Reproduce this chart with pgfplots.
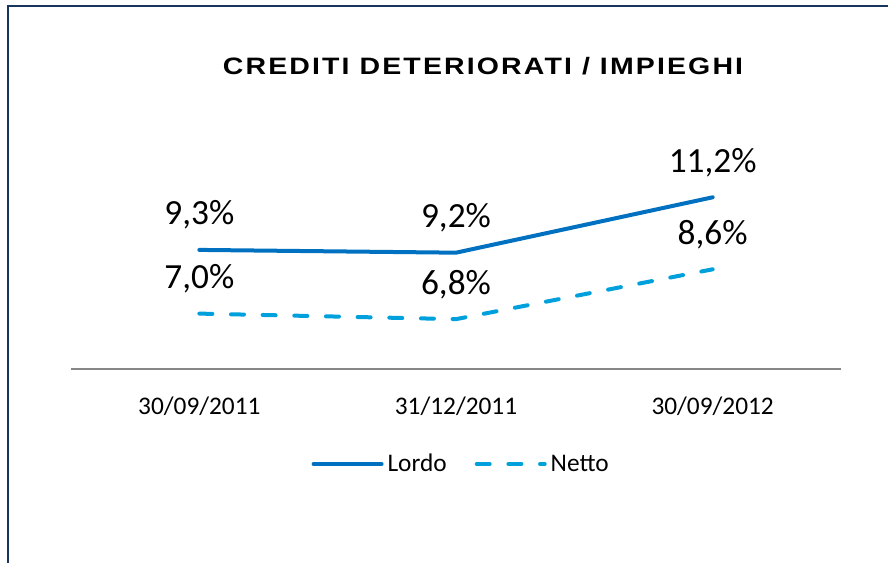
\documentclass[border=0pt]{standalone}
\usepackage{pgfplots}
\pgfplotsset{compat=1.18}
\usepackage{fontspec}
\setmainfont{Carlito}
\newfontfamily\titlefont[FakeStretch=1.2,LetterSpace=9]{Liberation Sans}
\definecolor{lordo}{RGB}{0,112,192}
\definecolor{netto}{RGB}{0,160,220}
\definecolor{frame}{RGB}{23,54,93}
\definecolor{axisgray}{RGB}{134,134,134}
\begin{document}
\begin{tikzpicture}
\useasboundingbox (0,0) rectangle (666pt,422.25pt);
\draw[frame, line width=1.5pt] (6pt,-2pt) -- (6pt,417.75pt) -- (668pt,417.75pt);
\node[anchor=base, inner sep=0pt, font=\titlefont\bfseries\fontsize{17.8}{21}\selectfont] at (362.25pt,366pt) {CREDITI DETERIORATI / IMPIEGHI};
\begin{axis}[
  at={(53.25pt,145.5pt)}, anchor=south west,
  scale only axis, width=577.5pt, height=145.4pt,
  xmin=-0.5, xmax=2.5, ymin=5, ymax=12,
  axis x line*=bottom, axis y line=none,
  x axis line style={draw=axisgray, line width=1.3pt},
  xtick={0,1,2}, xticklabels={30/09/2011,31/12/2011,30/09/2012},
  major tick length=0pt,
  xticklabel style={font=\fontsize{19}{22}\selectfont, anchor=base, yshift=-34.5pt},
  clip=false,
  point meta=y,
  nodes near coords={\pgfmathprintnumber[fixed,fixed zerofill,precision=1,use comma,assume math mode=true]{\pgfplotspointmeta}\%},
  every node near coord/.append style={anchor=base, yshift=18.75pt, font=\fontsize{26.5}{30}\selectfont, text=black},
  legend style={at={(0.508,-0.49)}, anchor=center, draw=none, fill=none, legend columns=2,
    font=\fontsize{19}{22}\selectfont, inner sep=0pt, nodes={inner sep=3pt},
    /tikz/every even column/.append style={column sep=18pt}},
  legend image code/.code={\draw[#1] (0pt,0pt) -- (51pt,0pt);},
]
\addplot[lordo, line width=3pt, line join=round, line cap=round, no marks] coordinates {(0,9.3) (1,9.2) (2,11.2)};
\addlegendentry{Lordo}
\addplot[netto, line width=3pt, line cap=round, dash pattern=on 9.75pt off 14pt, no marks] coordinates {(0,7.0) (1,6.8) (2,8.6)};
\addlegendentry{Netto}
\end{axis}
\end{tikzpicture}
\end{document}
